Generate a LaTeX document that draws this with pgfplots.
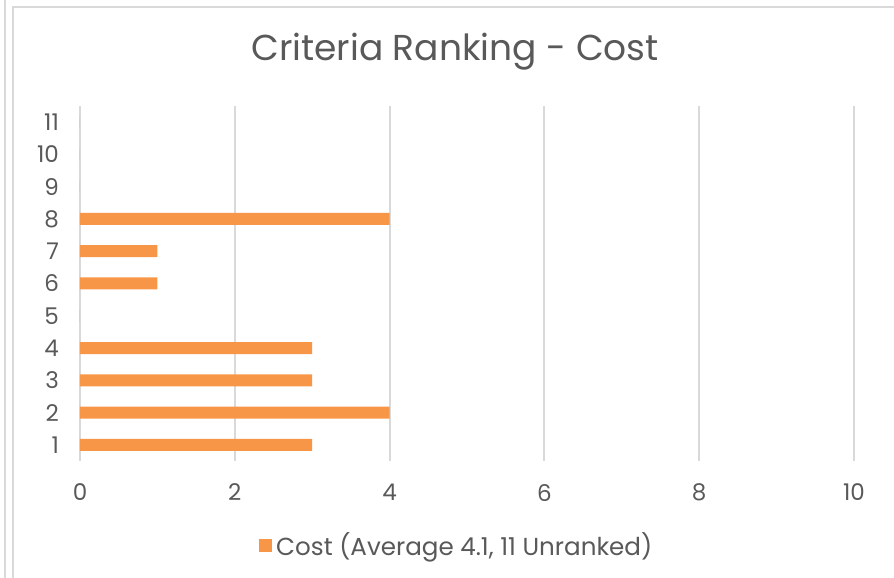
\documentclass[border=0pt]{standalone}
\usepackage{fontspec}
\setmainfont{Poppins}
\usepackage{pgfplots}
\pgfplotsset{compat=1.18}
\definecolor{txtgray}{HTML}{595959}
\definecolor{gridgray}{HTML}{D9D9D9}
\definecolor{barorange}{HTML}{F79646}

\begin{document}
\begin{tikzpicture}[x=0.5pt,y=0.5pt]
\useasboundingbox (0,0) rectangle (894,578);
% frame of the chart area
\draw[gridgray, line width=1pt] (5,0) -- (5,578);
\draw[gridgray, line width=1.2pt] (13,0) -- (13,571) -- (894,571);
\node[txtgray, font=\fontsize{18}{21}\selectfont] at (455,526) {Criteria Ranking - Cost};
\begin{axis}[
  at={(40pt,58.5pt)}, anchor=south west,
  scale only axis, width=387pt, height=177.5pt,
  xbar, bar width=6pt,
  xmin=0, xmax=10, ymin=0.5, ymax=11.5,
  xtick={0,2,...,10}, ytick={1,...,11},
  axis line style={draw=none},
  major tick length=0pt,
  xmajorgrids, grid style={gridgray, line width=1pt},
  tick label style={txtgray, font=\fontsize{11.5}{13}\selectfont},
  /pgf/number format/assume math mode=true,
  xticklabel style={yshift=-8pt},
  yticklabel style={xshift=-7pt},
  legend style={draw=none, at={(0.488,-0.237)}, anchor=center,
    font=\fontsize{12.3}{14}\selectfont, text=txtgray},
  legend image code/.code={\fill[barorange] (0pt,-3.2pt) rectangle (6.5pt,3.3pt);},
]
\addplot[fill=barorange, draw=none] coordinates {
  (3,1) (4,2) (3,3) (3,4) (0,5) (1,6) (1,7) (4,8) (0,9) (0,10) (0,11)
};
\addlegendentry{Cost (Average 4.1, 11 Unranked)}
\end{axis}
\end{tikzpicture}
\end{document}
